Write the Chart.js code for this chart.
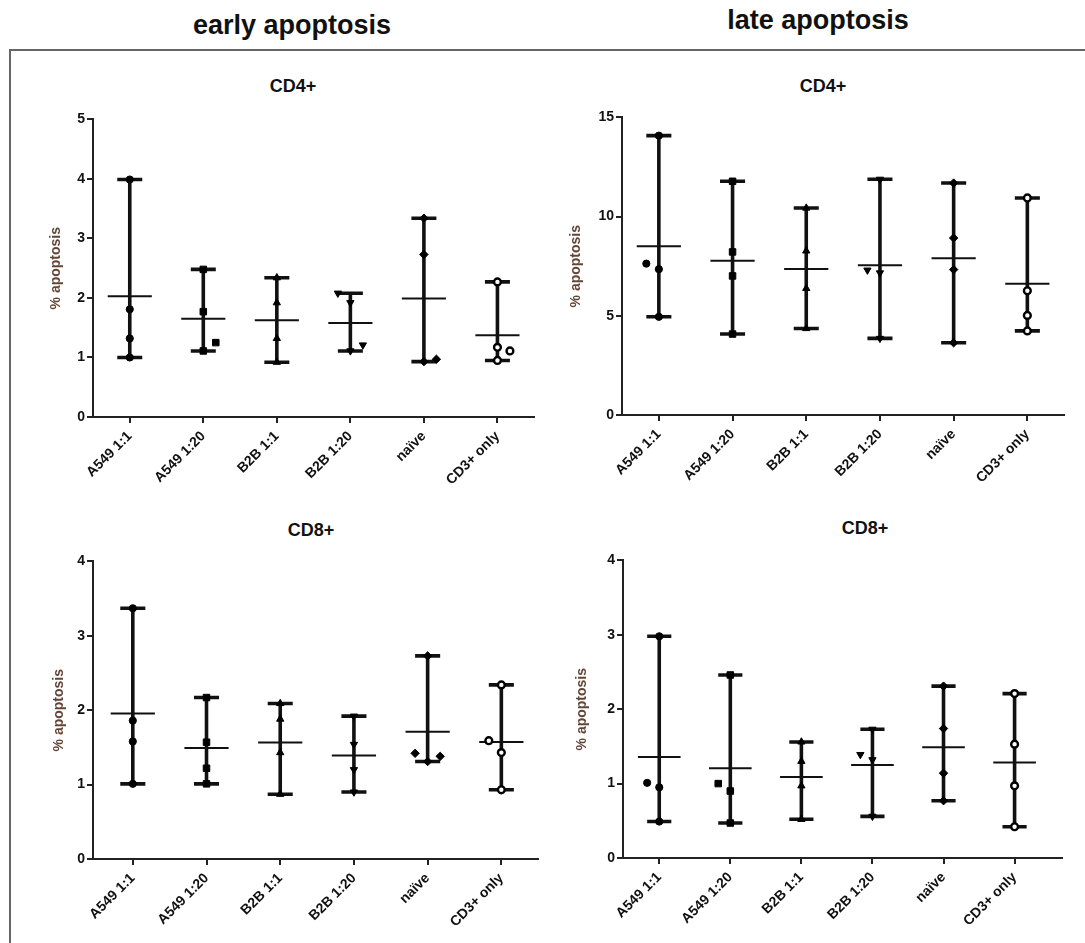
<!DOCTYPE html>
<html>
<head>
<meta charset="utf-8">
<script src="https://cdn.jsdelivr.net/npm/chart.js@4.4.1/dist/chart.umd.min.js"></script>
<style>
  html, body { margin:0; padding:0; background:#fff; width:1085px; height:943px; overflow:hidden; position:relative;
    font-family:"Liberation Sans", Arial, sans-serif; }
  .frame { position:absolute; left:9px; top:49px; width:1200px; height:1000px;
    border-left:2px solid #666; border-top:2px solid #666; }
  .t { position:absolute; font-weight:bold; color:#111; transform:translate(-50%,-50%); white-space:nowrap; line-height:1; }
  canvas { position:absolute; }
</style>
</head>
<body>
<div class="frame"></div>
<div class="t" style="left:292px;top:25px;font-size:27px">early apoptosis</div>
<div class="t" style="left:818px;top:20px;font-size:27px">late apoptosis</div>
<div class="t" style="left:293px;top:86px;font-size:18px">CD4+</div>
<div class="t" style="left:823px;top:86px;font-size:18px">CD4+</div>
<div class="t" style="left:311px;top:530px;font-size:18px">CD8+</div>
<div class="t" style="left:865px;top:528px;font-size:18px">CD8+</div>
<canvas id="c1"></canvas>
<canvas id="c2"></canvas>
<canvas id="c3"></canvas>
<canvas id="c4"></canvas>
<script>
// ---------- data ----------
const categories = ['A549 1:1', 'A549 1:20', 'B2B 1:1', 'B2B 1:20', 'naïve', 'CD3+ only'];

// early apoptosis, CD4+ (% apoptosis, one list per group)
const earlyCD4 = [
  [3.99, 1.81, 1.32, 1.00],
  [2.48, 1.77, 1.11, 1.25],
  [2.34, 1.92, 1.32, 0.92],
  [2.08, 1.92, 1.11, 1.21],
  [3.34, 2.73, 0.93, 0.97],
  [2.27, 1.17, 0.95, 1.11]
];
// overlap side of each point (-1 left, 0 centre, 1 right)
const earlyCD4Side = [[0,0,0,0],[0,0,0,1],[0,0,0,0],[-1,0,0,1],[0,0,0,1],[0,0,0,1]];

// late apoptosis, CD4+
const lateCD4 = [
  [14.08, 7.35, 4.95, 7.63],
  [11.78, 8.22, 7.01, 4.08],
  [10.43, 8.27, 6.38, 4.36],
  [11.88, 7.16, 3.86, 7.30],
  [11.69, 8.92, 7.33, 3.64],
  [10.94, 6.26, 5.02, 4.24]
];
const lateCD4Side = [[0,0,0,-1],[0,0,0,0],[0,0,0,0],[0,0,0,-1],[0,0,0,0],[0,0,0,0]];

// early apoptosis, CD8+
const earlyCD8 = [
  [3.37, 1.86, 1.58, 1.01],
  [2.17, 1.57, 1.22, 1.01],
  [2.09, 1.88, 1.43, 0.87],
  [1.92, 1.54, 1.20, 0.90],
  [2.73, 1.31, 1.42, 1.38],
  [2.34, 1.43, 0.93, 1.59]
];
const earlyCD8Side = [[0,0,0,0],[0,0,0,0],[0,0,0,0],[0,0,0,0],[0,0,-1,1],[0,0,0,-1]];

// late apoptosis, CD8+
const lateCD8 = [
  [2.98, 0.95, 0.49, 1.01],
  [2.46, 0.90, 0.47, 1.00],
  [1.56, 1.30, 0.97, 0.52],
  [1.73, 1.32, 0.56, 1.39],
  [2.31, 1.74, 1.14, 0.77],
  [2.21, 1.53, 0.97, 0.42]
];
const lateCD8Side = [[0,0,0,-1],[0,0,0,-1],[0,0,0,0],[0,0,0,-1],[0,0,0,0],[0,0,0,0]];

const yTicksCD4early = { max: 5, step: 1 };
const yTicksCD4late  = { max: 15, step: 5 };
const yTicksCD8      = { max: 4, step: 1 };

// ---------- styling ----------
const FONT = '"Liberation Sans", Arial, sans-serif';
Chart.defaults.font.family = FONT;
const markerStyle = ['circle', 'rect', 'triangle', 'triangle', 'rectRot', 'circle'];
const markerRot   = [0, 0, 0, 180, 0, 0];
const markerFill  = ['#000', '#000', '#000', '#000', '#000', '#fff'];
const markerSize  = [3.6, 4.6, 4.2, 4.2, 4.2, 3.4];
const markerLine  = [1, 1, 1, 1, 1, 2.4];
const SIDE_SHIFT = 0.17, CAP = 0.17, MEAN_W = 0.30, X_AXIS_H = 90, PAD_TOP = 10;

function mean(a) { return a.reduce((s, v) => s + v, 0) / a.length; }

function seg(points, width) {
  return { data: points, showLine: true, borderColor: '#111', borderWidth: width,
    pointRadius: 0, pointHoverRadius: 0, tension: 0, fill: false, borderCapStyle: 'butt' };
}

function makeChart(id, values, sides, yInfo, g) {
  const cv = document.getElementById(id);
  const W = Math.round(g.right - g.left);
  const H = Math.round(PAD_TOP + (g.bottom - g.top) + X_AXIS_H);
  cv.width = W; cv.height = H;
  cv.style.left = g.left + 'px'; cv.style.top = (g.top - PAD_TOP) + 'px';
  cv.style.width = W + 'px'; cv.style.height = H + 'px';

  const pts = [], styles = [], rots = [], fills = [], bw = [], rad = [];
  values.forEach((grp, i) => grp.forEach((v, j) => {
    pts.push({ x: i + sides[i][j] * SIDE_SHIFT, y: v });
    styles.push(markerStyle[i]); rots.push(markerRot[i]); fills.push(markerFill[i]);
    bw.push(markerLine[i]); rad.push(markerSize[i]);
  }));
  const datasets = [{
    data: pts, showLine: false, pointStyle: styles, rotation: rots,
    pointBackgroundColor: fills, pointBorderColor: '#000', pointBorderWidth: bw,
    pointRadius: rad, pointHoverRadius: rad
  }];
  values.forEach((grp, i) => {
    const lo = Math.min(...grp), hi = Math.max(...grp), m = mean(grp);
    datasets.push(seg([{ x: i, y: lo }, { x: i, y: hi }], 3.6));
    datasets.push(seg([{ x: i - CAP, y: hi }, { x: i + CAP, y: hi }], 3.6));
    datasets.push(seg([{ x: i - CAP, y: lo }, { x: i + CAP, y: lo }], 3.6));
    datasets.push(seg([{ x: i - MEAN_W, y: m }, { x: i + MEAN_W, y: m }], 2));
  });

  new Chart(cv, {
    type: 'scatter',
    data: { datasets },
    options: {
      responsive: false, animation: false, events: [],
      layout: { padding: { top: PAD_TOP, left: 0, right: 0, bottom: 0 } },
      plugins: { legend: { display: false }, tooltip: { enabled: false }, title: { display: false } },
      scales: {
        x: {
          type: 'linear', min: g.xMin, max: g.xMax,
          afterBuildTicks: s => { s.ticks = categories.map((_, i) => ({ value: i })); },
          afterFit: s => { s.height = X_AXIS_H; },
          grid: { drawOnChartArea: false, drawTicks: true, tickLength: 6, color: '#222', lineWidth: 2 },
          border: { display: true, color: '#222', width: 2 },
          ticks: { autoSkip: false, minRotation: 45, maxRotation: 45, padding: 5, color: '#111',
            font: { family: FONT, size: 14, weight: 'bold' },
            callback: v => categories[v] }
        },
        y: {
          min: 0, max: yInfo.max,
          afterFit: s => { s.width = g.axisX - g.left; },
          grid: { drawOnChartArea: false, drawTicks: true, tickLength: 6, color: '#222', lineWidth: 2 },
          border: { display: true, color: '#222', width: 2 },
          ticks: { stepSize: yInfo.step, padding: 2, color: '#111', font: { family: FONT, size: 14, weight: 'bold' } },
          title: { display: true, text: '% apoptosis', color: '#634536', padding: { top: 4, bottom: 4 },
            font: { family: FONT, size: 14, weight: 'bold' } }
        }
      }
    }
  });
}

makeChart('c1', earlyCD4, earlyCD4Side, yTicksCD4early,
  { left: 44, axisX: 93, right: 540, top: 119, bottom: 417, xMin: -0.5, xMax: 5.5 });
makeChart('c2', lateCD4, lateCD4Side, yTicksCD4late,
  { left: 564, axisX: 622, right: 1070, top: 117, bottom: 415, xMin: -0.5, xMax: 5.5 });
makeChart('c3', earlyCD8, earlyCD8Side, yTicksCD8,
  { left: 47, axisX: 93, right: 544, top: 561, bottom: 859, xMin: -0.54, xMax: 5.5 });
makeChart('c4', lateCD8, lateCD8Side, yTicksCD8,
  { left: 570, axisX: 623, right: 1068, top: 560, bottom: 858, xMin: -0.51, xMax: 5.67 });
</script>
</body>
</html>
